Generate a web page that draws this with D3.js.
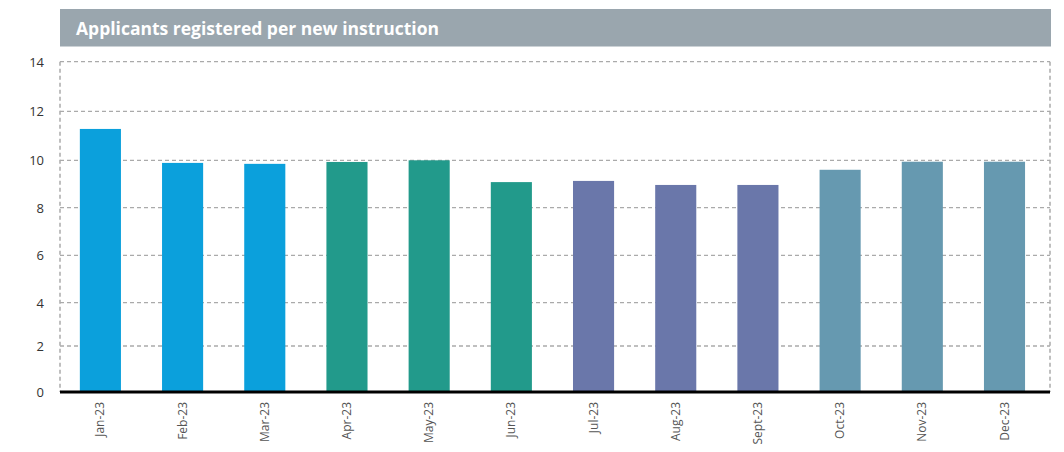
<!DOCTYPE html>
<html><head><meta charset="utf-8">
<script src="https://cdn.jsdelivr.net/npm/d3@7"></script>
<style>body{margin:0;background:#fff;} svg{display:block;}</style>
</head><body>
<svg id="c" width="1064" height="452"></svg>
<script>
const title = "Applicants registered per new instruction";
const months = ["Jan-23","Feb-23","Mar-23","Apr-23","May-23","Jun-23","Jul-23","Aug-23","Sept-23","Oct-23","Nov-23","Dec-23"];
const values = [11.28, 9.89, 9.85, 9.93, 10.0, 9.08, 9.13, 8.96, 8.96, 9.6, 9.94, 9.94];
const quarterColors = ["#0ba0dc", "#229a8b", "#6a77aa", "#6699b0"];
const yTicks = [0, 2, 4, 6, 8, 10, 12, 14];

const svg = d3.select("#c");
const L = 60, R = 1050, T = 61.7, B = 392;

// title bar
svg.append("rect").attr("x", 60).attr("y", 9).attr("width", 991).attr("height", 37.5).attr("fill", "#9aa6ae");
svg.append("text").attr("x", 76).attr("y", 35).attr("fill", "#fff")
  .attr("font-family", "Open Sans, sans-serif").attr("font-weight", "bold").attr("font-size", 17.5)
  .text(title);

const x = d3.scaleBand().domain(months).range([59.3, 1045.6]).paddingInner(0.5).paddingOuter(0.25);
const y = d3.scaleLinear().domain(yTicks).range([392, 346, 302.7, 255.3, 207.7, 160.3, 111.3, 61.7]);

// gridlines
svg.append("g").selectAll("line").data(yTicks.filter(d => d > 0)).join("line")
  .attr("x1", L).attr("x2", R).attr("y1", d => y(d)).attr("y2", d => y(d))
  .attr("stroke", "#aaa").attr("stroke-width", 1.3).attr("stroke-dasharray", "4,3");
// side dashed borders
[L, R].forEach(xx => svg.append("line").attr("x1", xx).attr("x2", xx).attr("y1", T).attr("y2", B)
  .attr("stroke", "#aaa").attr("stroke-width", 1.5).attr("stroke-dasharray", "4,3"));

// bars
svg.append("g").selectAll("rect").data(values).join("rect")
  .attr("x", (d, i) => x(months[i])).attr("width", x.bandwidth())
  .attr("y", d => y(d)).attr("height", d => y(0) - y(d))
  .attr("fill", (d, i) => quarterColors[Math.floor(i / 3)]);

// x axis baseline
svg.append("line").attr("x1", L).attr("x2", R).attr("y1", B).attr("y2", B)
  .attr("stroke", "#000").attr("stroke-width", 3);

// y tick labels
const yAxis = d3.axisLeft(y).tickValues(yTicks).tickSize(0).tickPadding(0).tickFormat(d3.format("d"));
const gy = svg.append("g").attr("transform", "translate(44,0)").call(yAxis);
gy.select(".domain").remove();
gy.selectAll("text").attr("font-family", "Open Sans, sans-serif").attr("font-size", 13).attr("fill", "#333").attr("dy", "0.35em");

// x tick labels
const xAxis = d3.axisBottom(x).tickSize(0).tickPadding(0);
const gx = svg.append("g").attr("transform", `translate(0,${B})`).call(xAxis);
gx.select(".domain").remove();
gx.selectAll("text")
  .attr("font-family", "Open Sans, sans-serif").attr("font-size", 12).attr("fill", "#555")
  .attr("text-anchor", "end").attr("dy", null).attr("y", null)
  .attr("transform", "translate(4,10) rotate(-90)");
</script>
</body></html>
